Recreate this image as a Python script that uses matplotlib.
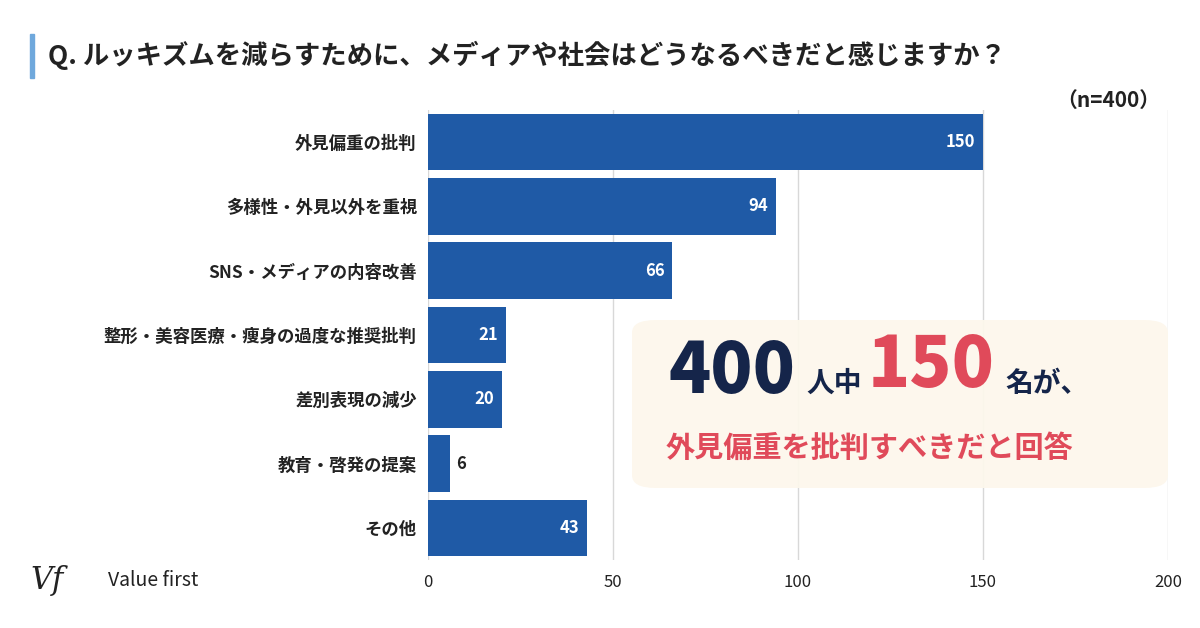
import matplotlib
matplotlib.use("Agg")
import matplotlib.pyplot as plt
from matplotlib.patches import FancyBboxPatch, Rectangle

plt.rcParams['font.family'] = ['Noto Sans CJK JP', 'DejaVu Sans']

categories = ["外見偏重の批判", "多様性・外見以外を重視", "SNS・メディアの内容改善",
              "整形・美容医療・痩身の過度な推奨批判", "差別表現の減少", "教育・啓発の提案", "その他"]
values = [150, 94, 66, 21, 20, 6, 43]
xticks = [0, 50, 100, 150, 200]

W, H = 1200, 628
fig = plt.figure(figsize=(12, 6.28), dpi=100)
fig.patch.set_facecolor("white")
ax = fig.add_axes([428/W, 1-560/H, 740/W, 450/H])
y = list(range(len(categories)))
ax.barh(y, values, height=0.88, color="#1f5aa6", zorder=3)
ax.set_ylim(6.5, -0.5)
ax.set_xlim(0, 200)
ax.set_xticks(xticks)
ax.set_xticklabels([str(t) for t in xticks], fontsize=12, color="#222")
ax.set_yticks(y)
ax.set_yticklabels(categories, fontsize=12.5, fontweight="bold", color="#222")
ax.tick_params(length=0, pad=8)
ax.tick_params(axis='x', pad=10)
for s in ax.spines.values():
    s.set_visible(False)
ax.grid(axis='x', color="#d8d8d8", lw=1, zorder=0)
for yi, v in zip(y, values):
    if v >= 15:
        ax.text(v - 2, yi, str(v), ha='right', va='center', color='white', fontsize=12, fontweight='bold', zorder=4)
    else:
        ax.text(v + 1.5, yi, str(v), ha='left', va='center', color='#222', fontsize=12, fontweight='bold', zorder=4)

# title
fig.patches.append(Rectangle((30/W, 1-78/H), 4/W, 44/H, transform=fig.transFigure, color="#6fa8dc"))
fig.text(48/W, 1-55/H, "Q. ルッキズムを減らすために、メディアや社会はどうなるべきだと感じますか？",
         fontsize=19, fontweight='bold', color="#222", va='center')
fig.text(1160/W, 1-100/H, "（n=400）", fontsize=15, fontweight='bold', color="#222", va='center', ha='right')

# callout box
box = FancyBboxPatch((632/W, 1-488/H), 536/W, 168/H, boxstyle="round,pad=0,rounding_size=0.02",
                     transform=fig.transFigure, facecolor="#fdf7ec", edgecolor="none", alpha=0.95, zorder=5)
fig.patches.append(box)
fig.text(668/W, 1-372/H, "400", fontsize=50, fontweight='black', color="#15254a", va='center', zorder=6)
fig.text(806/W, 1-384/H, "人中", fontsize=20, fontweight='bold', color="#15254a", va='center', zorder=6)
fig.text(868/W, 1-366/H, "150", fontsize=50, fontweight='black', color="#e04a5a", va='center', zorder=6)
fig.text(1005/W, 1-384/H, "名が、", fontsize=20, fontweight='bold', color="#15254a", va='center', zorder=6)
fig.text(666/W, 1-448/H, "外見偏重を批判すべきだと回答", fontsize=21, fontweight='bold', color="#e04a5a", va='center', zorder=6)

# logo
fig.text(30/W, 1-580/H, "Vf", fontsize=22, color="#222", va='center', style='italic', family=['DejaVu Serif'])
fig.text(108/W, 1-580/H, "Value first", fontsize=14, color="#222", va='center')

fig.savefig("out.png", dpi=100)
